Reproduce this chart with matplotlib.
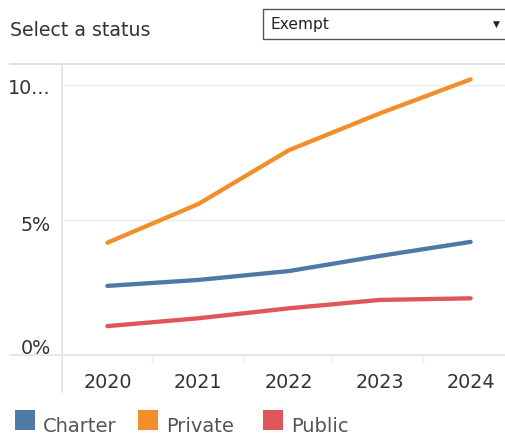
import matplotlib.pyplot as plt
from matplotlib.lines import Line2D
from matplotlib.patches import Rectangle
import matplotlib.transforms as mtransforms

# data (percent)
years = ['2020', '2021', '2022', '2023', '2024']
charter = [2.56, 2.78, 3.11, 3.67, 4.19]
private = [4.16, 5.59, 7.59, 8.95, 10.21]
public = [1.07, 1.36, 1.73, 2.04, 2.10]

series_names = ['Charter', 'Private', 'Public']
series_colors = ['#4e79a7', '#f28e2b', '#e15759']
ytick_vals = [0, 5, 10]
ytick_labels = ['0%', '5%', '10...']

plt.rcParams['font.family'] = ['DejaVu Sans']
txt = '#333333'
grid = '#ebebeb'

W, H = 506, 436
fig = plt.figure(figsize=(W / 100, H / 100), dpi=100)

def fx(px):
    return px / W

def fy(py):
    return 1 - py / H

# plot area: left 62, right 516 (runs past edge), top 64, bottom 355
ax = fig.add_axes([fx(62), fy(355), fx(454), (355 - 64) / H])
x = list(range(len(years)))
for vals, name, col in zip([charter, private, public], series_names, series_colors):
    ax.plot(x, vals, color=col, lw=3.1, solid_capstyle='round', label=name)

ax.set_xlim(-0.5, 4.5)
ax.set_ylim(0, 10.78)
for s in ax.spines.values():
    s.set_visible(False)
ax.set_yticks(ytick_vals)
ax.set_yticklabels([])
ax.tick_params(length=0)
for v in ytick_vals[1:]:
    ax.axhline(v, color=grid, lw=1, zorder=0)

ax.set_xticks(x)
ax.set_xticklabels(years, fontsize=13.8, color=txt)
ax.tick_params(axis='x', pad=13)

# y labels placed like the Tableau header
offs = [-7, 5, 3]
for v, lab, dy in zip(ytick_vals, ytick_labels, offs):
    tr = mtransforms.offset_copy(ax.get_yaxis_transform(), fig=fig, x=-11, y=-dy, units='dots')
    ax.text(0, v, lab, transform=tr, ha='right', va='center', fontsize=13.8, color=txt)

# frame lines
fig.add_artist(Line2D([fx(10), 1], [fy(64), fy(64)], color='#d9d9d9', lw=1.2))
fig.add_artist(Line2D([fx(10), 1], [fy(355), fy(355)], color='#e3e3e3', lw=1.2))
fig.add_artist(Line2D([fx(62), fx(62)], [fy(64), fy(392)], color='#e3e3e3', lw=1.2))
for px in [152, 243, 332, 423]:
    fig.add_artist(Line2D([fx(px), fx(px)], [fy(355), fy(363)], color='#f0f0f0', lw=1))

# filter control
fig.text(fx(10), fy(31), 'Select a status', ha='left', va='center', fontsize=13.6, color=txt)
fig.add_artist(Rectangle((fx(263), fy(39)), fx(260), (39 - 9) / H, facecolor='white',
                         edgecolor='#555555', lw=1))
fig.text(fx(270), fy(24), 'Exempt', ha='left', va='center', fontsize=11.2, color='#222222')
fig.text(fx(496), fy(24), '\u25BC', ha='center', va='center', fontsize=6.5, color='#222222')

# legend
lx = [15, 138, 263]
for px, name, col in zip(lx, series_names, series_colors):
    fig.add_artist(Rectangle((fx(px), fy(430)), fx(20), 20 / H, facecolor=col, edgecolor='none'))
    fig.text(fx(px + 28), fy(426), name, ha='left', va='center', fontsize=14, color='#555555')

fig.savefig('out.png', dpi=100)
